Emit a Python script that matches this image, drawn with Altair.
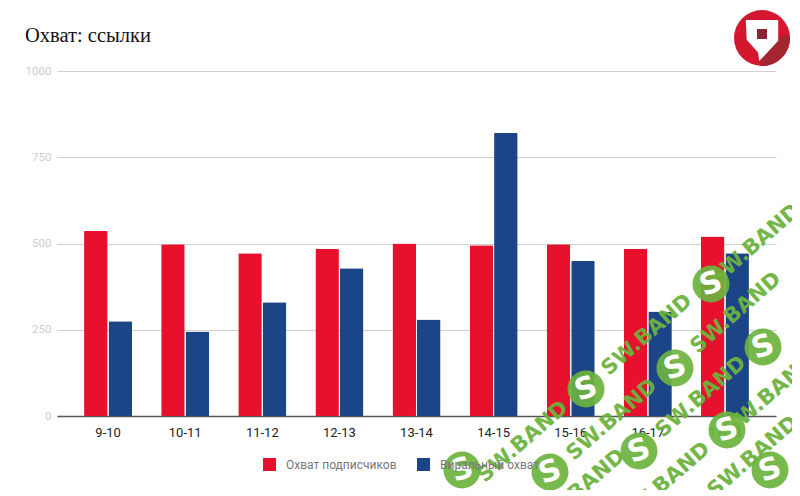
import altair as alt
import pandas as pd

periods = ["9-10", "10-11", "11-12", "12-13", "13-14", "14-15", "15-16", "16-17", "17-18"]
subscribers = [536, 498, 472, 484, 500, 495, 498, 484, 520]
viral = [275, 245, 330, 428, 280, 820, 449, 303, 472]
series_names = ["Охват подписчиков", "Виральный охват"]
series_colors = ["#e8112d", "#1c4587"]
y_ticks = [0, 250, 500, 750, 1000]
chart_title = "Охват: ссылки"

# page pixels of the decoration on top of the chart (logo + site watermark)
PLOT_LEFT = 57
PLOT_TOP = 71
wm_text_x = [647, 612, 701, 736, 755, 770, 753, 665, 580, 523]
wm_text_y = [335, 420, 397, 313, 245, 395, 457, 483, 490, 442]
wm_badge_x = [586, 675, 711, 763, 550, 639, 727, 770, 462]
wm_badge_y = [389, 368, 284, 347, 472, 451, 430, 470, 470]
LOGO_X = 762
LOGO_Y = 38

rows = []
for i, period in enumerate(periods):
    rows.append({"period": period, "series": series_names[0], "value": subscribers[i]})
    rows.append({"period": period, "series": series_names[1], "value": viral[i]})
df = pd.DataFrame(rows)


def at(page_x, page_y):
    return {"x": alt.value(page_x - PLOT_LEFT), "y": alt.value(page_y - PLOT_TOP)}


x = alt.X(
    "period:N",
    sort=periods,
    title=None,
    scale=alt.Scale(paddingInner=0.377, paddingOuter=0.351),
    axis=alt.Axis(labelAngle=0, labelColor="#222222", labelFont="Roboto", labelFontSize=13,
                  labelPadding=10, ticks=False, domainColor="#555555", domainWidth=1.5),
)
y = alt.Y(
    "value:Q",
    title=None,
    scale=alt.Scale(domain=[0, 1000], nice=False),
    axis=alt.Axis(values=y_ticks, format="d", labelColor="#cccccc", labelFont="Roboto", labelFontSize=11.5,
                  labelPadding=6, ticks=False, domain=False, gridColor="#cfcfcf"),
)

bars = alt.Chart(df).mark_bar(cornerRadius=1).encode(
    x=x,
    y=y,
    xOffset=alt.XOffset("series:N", sort=series_names, scale=alt.Scale(paddingInner=0.04)),
    color=alt.Color(
        "series:N",
        sort=series_names,
        scale=alt.Scale(domain=series_names, range=series_colors),
        legend=alt.Legend(orient="none", legendX=206, legendY=387, direction="horizontal", title=None,
                          symbolType="square", symbolSize=169, symbolStrokeWidth=0, labelOffset=10,
                          labelColor="#777777", labelFont="Roboto", labelFontSize=12, columnPadding=20),
    ),
)

layers = [bars]
layers.append(alt.Chart().mark_text(
    text=chart_title, align="left", baseline="alphabetic", font="Liberation Serif", fontSize=20.5, color="#111111",
).encode(**at(25, 42)))
layers.append(alt.Chart().mark_point(filled=True, opacity=1, size=3136, shape="circle", color="#d3172e").encode(**at(LOGO_X, LOGO_Y)))
layers.append(alt.Chart().mark_arc(outerRadius=28, theta=1.5, theta2=3.2, color="#a32530").encode(**at(LOGO_X, LOGO_Y)))
layers.append(alt.Chart().mark_point(
    filled=True, opacity=1, size=1296, color="white",
    shape="M-0.9,-1 L0.9,-1 L0.9,0.15 L-0.15,1.28 L-0.22,0.8 L-0.85,0.1 Z",
).encode(**at(LOGO_X, LOGO_Y)))
layers.append(alt.Chart().mark_point(
    filled=True, opacity=1, size=100, shape="square", color="#8b2333",
).encode(**at(LOGO_X, LOGO_Y - 4)))

for tx, ty in zip(wm_text_x, wm_text_y):
    layers.append(alt.Chart().mark_text(
        text="SW.BAND", angle=319, font="DejaVu Sans", fontWeight="bold", fontSize=21, color="#6db33f", opacity=0.95,
    ).encode(**at(tx, ty)))
for bx, by in zip(wm_badge_x, wm_badge_y):
    layers.append(alt.Chart().mark_point(
        filled=True, opacity=0.92, size=1370, shape="circle", color="#6db33f",
    ).encode(**at(bx, by)))
    layers.append(alt.Chart().mark_text(
        text="S", font="DejaVu Sans", fontWeight="bold", fontSize=30, color="white", angle=340,
    ).encode(**at(bx, by)))

chart = alt.layer(*layers).properties(
    width=719,
    height=345,
    autosize=alt.AutoSizeParams(type="none"),
    padding={"left": 49, "top": 63, "right": 16, "bottom": 74},
).configure_view(stroke=None)

chart.save("out.html", embed_options={"renderer": "svg", "actions": False})
